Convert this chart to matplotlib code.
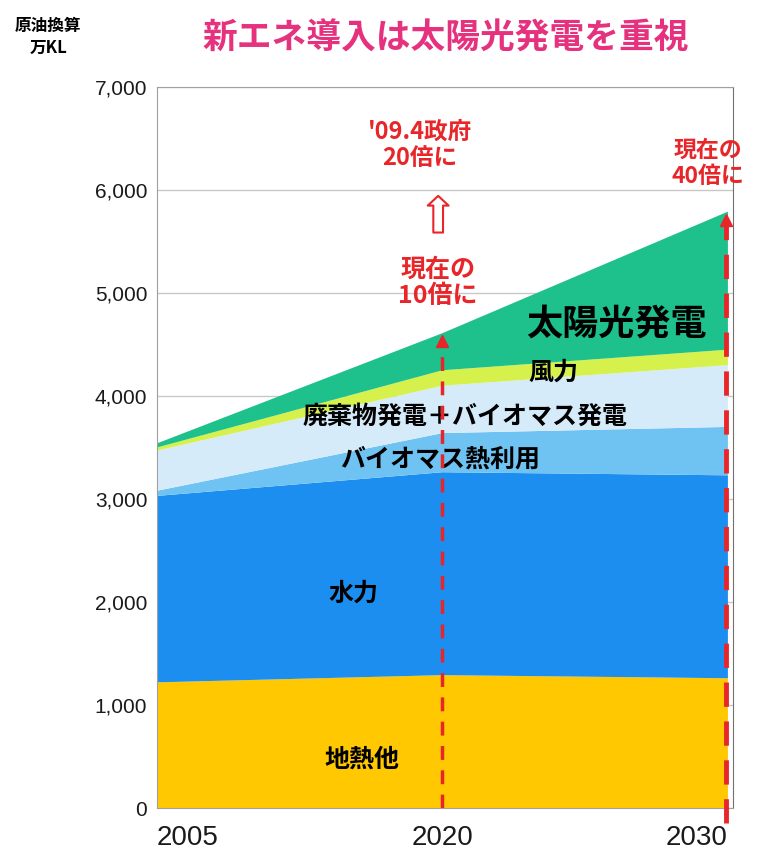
import matplotlib
matplotlib.use("Agg")
import matplotlib.pyplot as plt
import numpy as np

plt.rcParams['font.family'] = ['Noto Sans CJK JP', 'DejaVu Sans']

years = ['2005', '2020', '2030']
# 万KL (原油換算)
geo = [1220, 1290, 1260]
hydro = [1810, 1970, 1970]
bio_heat = [50, 380, 470]
waste_bio = [390, 460, 600]
wind = [30, 150, 150]
solar = [40, 360, 1340]

layer_names = ['地熱他', '水力', 'バイオマス熱利用', '廃棄物発電＋バイオマス発電', '風力', '太陽光発電']
layer_colors = ['#ffc800', '#1c8ef0', '#6fc3f3', '#d6ebf9', '#d6f04c', '#1ec08c']

x = np.arange(len(years))

fig = plt.figure(figsize=(7.64, 8.63), dpi=100)
ax = fig.add_axes([0.2055, 0.0637, 0.754, 0.8355])

ax.set_yticks(range(0, 7001, 1000))
ax.grid(axis='y', color='#c8c8c8', lw=1)
ax.set_axisbelow(True)
ax.stackplot(x, geo, hydro, bio_heat, waste_bio, wind, solar,
             colors=layer_colors, labels=layer_names, zorder=2)

ax.set_xlim(0, 2.018)
ax.set_ylim(0, 7000)
ax.set_xticks(x)
ax.set_xticklabels(years)
ax.set_yticklabels(['{:,}'.format(v) for v in range(0, 7001, 1000)])
ax.tick_params(axis='y', length=0, labelsize=15, pad=7)
ax.tick_params(axis='x', length=0, labelsize=20, pad=12)
for lab in ax.get_xticklabels() + ax.get_yticklabels():
    lab.set_family(['Liberation Sans', 'DejaVu Sans'])
    lab.set_color('#1a1a1a')
xt = ax.get_xticklabels()
xt[0].set_ha('left')
xt[-1].set_ha('right')
for s in ['left', 'top', 'bottom']:
    ax.spines[s].set_color('#a0a0a0')
ax.spines['right'].set_color('#707070')

# red dashed arrows at 2020 and 2030
red = '#e8262a'
tops = np.cumsum([geo, hydro, bio_heat, waste_bio, wind, solar], axis=0)[-1]
ax.plot([1, 1], [0, tops[1] - 80], ls=(0, (4, 3)), color=red, lw=2.5, zorder=4)
ax.plot(1, tops[1] - 80, marker='^', color=red, ms=8, zorder=4)
ax.plot([1.995, 1.995], [-150, tops[2] - 80], ls=(0, (5, 3)), color=red, lw=3.5,
        zorder=4, clip_on=False)
ax.plot(1.995, tops[2] - 80, marker='^', color=red, ms=9, zorder=4)

# hollow arrow
ax.annotate('', xy=(0.985, 5970), xytext=(0.985, 5560),
            arrowprops=dict(arrowstyle='simple,head_width=1.5,head_length=0.7,tail_width=0.7',
                            fc='white', ec=red, lw=1.5))

ax.text(0.92, 6440, "'09.4政府\n20倍に", color=red, fontsize=17, fontweight='bold',
        ha='center', va='center', linespacing=1.15)
ax.text(0.985, 5100, '現在の\n10倍に', color=red, fontsize=18, fontweight='bold',
        ha='center', va='center', linespacing=1.15)
ax.text(1.93, 6260, '現在の\n40倍に', color=red, fontsize=16.5, fontweight='bold',
        ha='center', va='center', linespacing=1.15)

# layer labels
ax.text(1.611, 4699, layer_names[5], fontsize=26, fontweight='bold', ha='center', va='center')
ax.text(1.39, 4223, layer_names[4], fontsize=18, fontweight='bold', ha='center', va='center')
ax.text(1.079, 3796, layer_names[3], fontsize=18, fontweight='bold', ha='center', va='center')
ax.text(0.991, 3379, layer_names[2], fontsize=18, fontweight='bold', ha='center', va='center')
ax.text(0.69, 2078, layer_names[1], fontsize=18, fontweight='bold', ha='center', va='center')
ax.text(0.718, 466, layer_names[0], fontsize=18, fontweight='bold', ha='center', va='center')

fig.text(0.583, 0.956, '新エネ導入は太陽光発電を重視', color='#e6327e', fontsize=25,
         fontweight='bold', ha='center', va='center')
fig.text(0.063, 0.957, '原油換算\n万KL', fontsize=12, fontweight='bold', ha='center',
         va='center', linespacing=1.25)

fig.savefig('out.png', dpi=100)
